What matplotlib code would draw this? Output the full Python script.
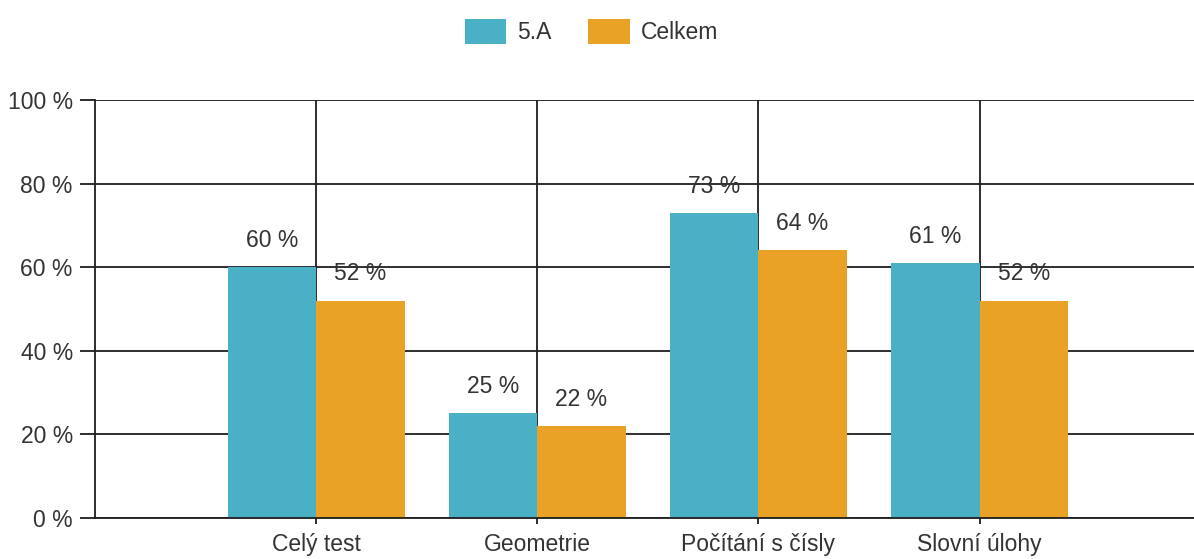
import matplotlib.pyplot as plt
import numpy as np
from matplotlib import font_manager

# data
categories = ['Celý test', 'Geometrie', 'Počítání s čísly', 'Slovní úlohy']
trida = [60, 25, 73, 61]      # 5.A
celkem = [52, 22, 64, 52]     # Celkem
series_names = ['5.A', 'Celkem']

names = {f.name for f in font_manager.fontManager.ttflist}
fam = 'Liberation Sans Narrow' if 'Liberation Sans Narrow' in names else 'Liberation Sans'
plt.rcParams['font.family'] = [fam, 'DejaVu Sans']
plt.rcParams['font.size'] = 16.5
plt.rcParams['text.color'] = '#333333'

teal = '#4AB0C5'
orange = '#E9A126'
line_col = '#1e1e1e'

fig = plt.figure(figsize=(11.94, 5.59), dpi=100)
ax = fig.add_axes([0.0796, 0.0733, 0.9204, 0.748])

x = np.arange(1, len(categories) + 1)
w = 0.4
b1 = ax.bar(x - w / 2, trida, w, color=teal, label=series_names[0], zorder=2)
b2 = ax.bar(x + w / 2, celkem, w, color=orange, label=series_names[1], zorder=2)

# popisky hodnot nad sloupci
for rects, vals in [(b1, trida), (b2, celkem)]:
    for r, v in zip(rects, vals):
        ax.annotate(f'{v} %', (r.get_x() + r.get_width() / 2, v),
                    xytext=(0, 11), textcoords='offset points',
                    ha='center', va='bottom', color='#333333', zorder=4)

ax.set_xlim(0, 4.97)
ax.set_ylim(0, 100)
ax.set_yticks([0, 20, 40, 60, 80, 100])
ax.set_yticklabels([f'{t} %' for t in [0, 20, 40, 60, 80, 100]])
ax.set_xticks(x)
ax.set_xticklabels(categories)

ax.grid(True, color=line_col, linewidth=1.3, zorder=0)
ax.set_axisbelow(True)
for s in ['top', 'right']:
    ax.spines[s].set_visible(False)
for s in ['left', 'bottom']:
    ax.spines[s].set_color(line_col)
    ax.spines[s].set_linewidth(1.3)
ax.tick_params(axis='y', length=11, width=1.3, color=line_col, pad=5, labelcolor='#333333')
ax.tick_params(axis='x', length=4, width=1.3, color=line_col, pad=7, labelcolor='#333333')

fig.legend(handles=[b1, b2], labels=series_names, loc='center', bbox_to_anchor=(0.4954, 0.943),
           ncol=2, frameon=False, handlelength=1.8, handleheight=1.25, columnspacing=1.6,
           handletextpad=0.5, fontsize=16.5)

fig.savefig('out.png', dpi=100)
